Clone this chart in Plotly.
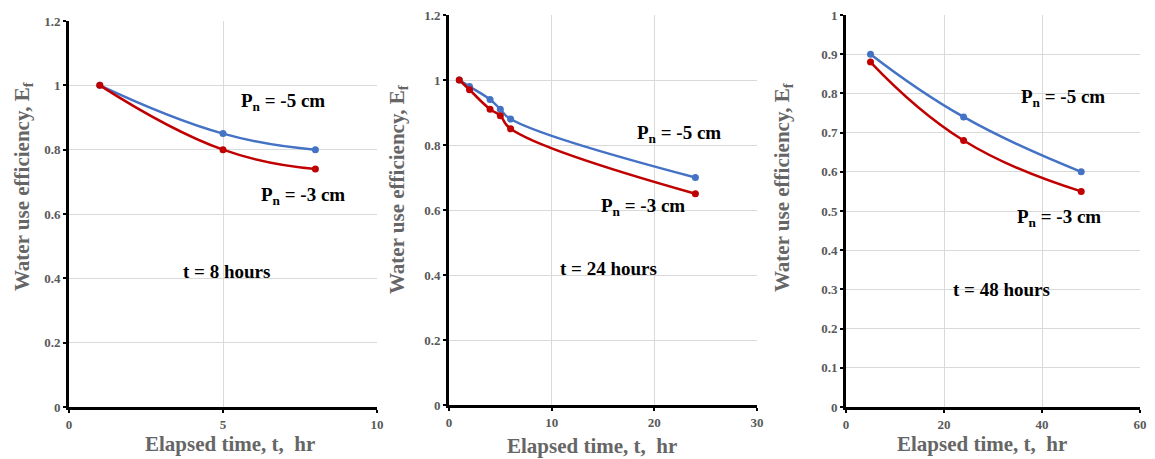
import plotly.graph_objects as go

# Panel 1: t = 8 hours
t8_x = [1, 5, 8]
t8_pn5 = [1.0, 0.85, 0.80]
t8_pn3 = [1.0, 0.80, 0.74]

# Panel 2: t = 24 hours
t24_x = [1, 2, 4, 5, 6, 24]
t24_pn5 = [1.0, 0.98, 0.94, 0.91, 0.88, 0.70]
t24_pn3 = [1.0, 0.97, 0.91, 0.89, 0.85, 0.65]

# Panel 3: t = 48 hours
t48_x = [5, 24, 48]
t48_pn5 = [0.90, 0.74, 0.60]
t48_pn3 = [0.88, 0.68, 0.55]

BLUE = "#4472C4"
RED = "#C00000"
GRAY = "#595959"
SERIF = "Liberation Serif, Times New Roman, serif"

OFF = 8  # page body margin
W, H = 1155 - 2 * OFF, 459 - OFF

def px_x(p):
    return (p - OFF) / W

def px_y(p):
    return 1 - (p - OFF) / H

panels = [
    dict(x=t8_x, a=t8_pn5, b=t8_pn3, xr=[0, 10], xd=5, yr=[0, 1.2], yd=0.2,
         dom_x=[69, 377], dom_y=[21, 407], label="t = 8 hours",
         lab=(5.1, 0.42), l5=(6.95, 0.948), l3=(7.6, 0.656),
         ytitle=(23, 186), xtitle=(230, 444)),
    dict(x=t24_x, a=t24_pn5, b=t24_pn3, xr=[0, 30], xd=10, yr=[0, 1.2], yd=0.2,
         dom_x=[449, 757], dom_y=[15, 405], label="t = 24 hours",
         lab=(15.5, 0.419), l5=(22.4, 0.833), l3=(18.9, 0.609),
         ytitle=(398, 189), xtitle=(592, 446)),
    dict(x=t48_x, a=t48_pn5, b=t48_pn3, xr=[0, 60], xd=20, yr=[0, 1.0], yd=0.1,
         dom_x=[846, 1140], dom_y=[15, 407], label="t = 48 hours",
         lab=(31.7, 0.30), l5=(44.2, 0.789), l3=(43.4, 0.483),
         ytitle=(783, 187), xtitle=(982, 444)),
]

fig = go.Figure()
annotations = []
for i, p in enumerate(panels):
    n = "" if i == 0 else str(i + 1)
    xa, ya = "x" + n, "y" + n
    for vals, col in ((p["a"], BLUE), (p["b"], RED)):
        fig.add_trace(go.Scatter(
            x=p["x"], y=vals, mode="lines+markers", xaxis=xa, yaxis=ya,
            line=dict(color=col, width=2.5, shape="spline", smoothing=1.3),
            marker=dict(color=col, size=7), showlegend=False, cliponaxis=False))
    axis_common = dict(showgrid=True, gridcolor="#D9D9D9", gridwidth=1,
                       showline=True, linecolor="black", linewidth=3,
                       ticks="outside", ticklen=3, tickwidth=2, tickcolor="black",
                       zeroline=False, automargin=False, ticklabeloverflow="allow",
                       tickfont=dict(family=SERIF, size=13, color=GRAY, weight="bold"))
    fig.update_layout(**{
        "xaxis" + n: dict(domain=[px_x(p["dom_x"][0]), px_x(p["dom_x"][1])],
                          range=p["xr"], dtick=p["xd"], tick0=0, ticklabelstandoff=0,
                          anchor=ya, **axis_common),
        "yaxis" + n: dict(domain=[px_y(p["dom_y"][1]), px_y(p["dom_y"][0])],
                          range=p["yr"], dtick=p["yd"], tick0=0,
                          anchor=xa, **axis_common),
    })
    bold = dict(family=SERIF, size=19, color="black", weight="bold")
    annotations += [
        dict(x=p["l5"][0], y=p["l5"][1], xref=xa, yref=ya, showarrow=False,
             xanchor="center", yanchor="middle",
             text="P<sub>n</sub> = -5 cm", font=bold),
        dict(x=p["l3"][0], y=p["l3"][1], xref=xa, yref=ya, showarrow=False,
             xanchor="center", yanchor="middle",
             text="P<sub>n</sub> = -3 cm", font=bold),
        dict(x=p["lab"][0], y=p["lab"][1], xref=xa, yref=ya, showarrow=False,
             xanchor="center", yanchor="middle",
             text=p["label"], font=bold),
        dict(x=px_x(p["ytitle"][0]), y=px_y(p["ytitle"][1]), xref="paper", yref="paper",
             xanchor="center", yanchor="middle",
             showarrow=False, textangle=-90, text="Water use efficiency, E<sub>f</sub>",
             font=dict(family=SERIF, size=21, color="#666666", weight="bold")),
        dict(x=px_x(p["xtitle"][0]), y=px_y(p["xtitle"][1]), xref="paper", yref="paper",
             xanchor="center", yanchor="middle",
             showarrow=False, text="Elapsed time, t,  hr",
             font=dict(family=SERIF, size=21, color="#666666", weight="bold")),
    ]

fig.update_layout(width=W, height=H, margin=dict(l=0, r=0, t=0, b=0),
                  paper_bgcolor="white", plot_bgcolor="white",
                  annotations=annotations)
fig.write_html("out.html")
